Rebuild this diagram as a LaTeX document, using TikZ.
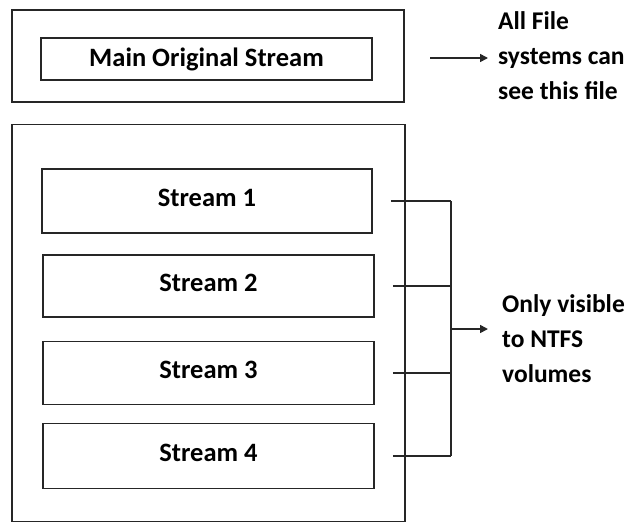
\documentclass[tikz,border=0pt]{standalone}
\usepackage{fontspec}
\setmainfont{Carlito}
\usetikzlibrary{arrows.meta,positioning}

\tikzset{
  frame/.style={draw=black!85, line width=1.6pt, rectangle, inner sep=0pt},
  streambox/.style={draw=black!85, line width=1.8pt, rectangle, inner sep=0pt,
    minimum width=331pt, font=\fontsize{26.5}{30}\selectfont\bfseries},
  lifted/.style={text height=17pt, text depth=7pt},
  link/.style={draw=black!85, line width=1.6pt},
  pointer/.style={link, -{Triangle[length=8pt,width=8pt]}},
  note/.style={align=left, anchor=west, inner sep=0pt,
    font=\fontsize{25.5}{35}\selectfont\bfseries}
}

\begin{document}
\begin{tikzpicture}[x=1pt, y=-1pt]
  \useasboundingbox (0,0) rectangle (630,523);

  % file with its main (unnamed) data stream
  \node[frame, minimum width=392pt, minimum height=92pt] (top) at (208,56) {};
  \node[streambox, minimum height=42pt] (main) at (206.5,59) {Main Original Stream};

  % alternate data streams
  \node[frame, minimum width=393pt, minimum height=397pt] (ads) at (208.5,323) {};
  \node[streambox, lifted, minimum width=330pt, minimum height=64pt] (s1) at (207,201) {Stream 1};
  \node[streambox, lifted, minimum height=62pt] (s2) at (208.5,286) {Stream 2};
  \node[streambox, lifted, minimum height=63pt] (s3) at (208.5,373) {Stream 3};
  \node[streambox, lifted, minimum height=65pt] (s4) at (208.5,456) {Stream 4};

  % explanatory notes
  \node[note] (all) at (498,56) {All File\\systems can\\see this file};
  \node[note] (ntfs) at (502,339) {Only visible\\to NTFS\\volumes};

  % main stream arrow
  \coordinate (ma) at (430,58);
  \coordinate (mtip) at (488,58);
  \draw[pointer] (ma) -- (mtip);

  % bracket joining the four streams
  \coordinate (b1) at (451,201);
  \coordinate (b2) at (451,286);
  \coordinate (b3) at (451,373);
  \coordinate (b4) at (451,456);
  \coordinate (bm) at (451,329);
  \foreach \s/\b in {s1/b1, s2/b2, s3/b3, s4/b4}
    \draw[link] ([xshift=18pt]\s.east) -- (\b);
  \draw[link] (b1) -- (b4);
  \coordinate (ntip) at (488,329);
  \draw[pointer] (bm) -- (ntip);
\end{tikzpicture}
\end{document}
